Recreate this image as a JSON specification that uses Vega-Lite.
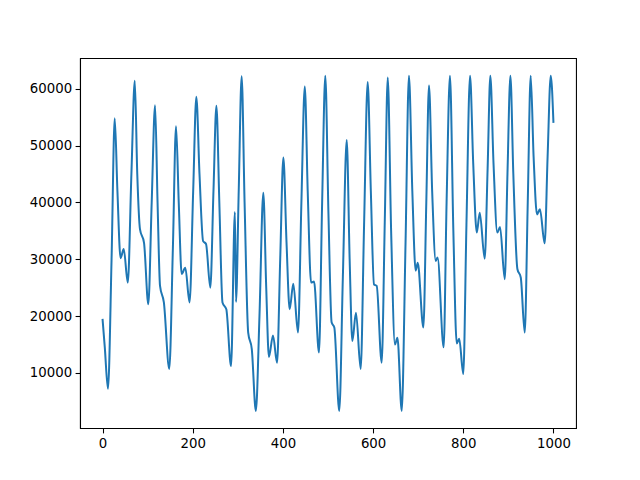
{
  "$schema": "https://vega.github.io/schema/vega-lite/v6.json",
  "width": 496,
  "height": 370,
  "autosize": {"type": "none"},
  "padding": {"left": 80, "top": 58, "right": 64, "bottom": 52},
  "background": "white",
  "config": {
    "view": {"stroke": "black", "strokeWidth": 1.07},
    "axis": {
      "grid": false,
      "domainColor": "black",
      "domainWidth": 1.07,
      "tickColor": "black",
      "tickWidth": 1.07,
      "tickSize": 4.9,
      "labelPadding": 3.5,
      "labelFont": "DejaVu Sans",
      "labelFontSize": 13.3,
      "labelColor": "black",
      "title": null
    }
  },
  "data": {"values": [
    {"x": 0, "y": 19500}, {"x": 5, "y": 14500}, {"x": 12, "y": 7200}, {"x": 20, "y": 30000},
    {"x": 27, "y": 54800}, {"x": 33, "y": 42000}, {"x": 40, "y": 30200}, {"x": 47, "y": 31800},
    {"x": 56, "y": 25900}, {"x": 64, "y": 45000}, {"x": 71.5, "y": 61400}, {"x": 77, "y": 45000},
    {"x": 83, "y": 35300}, {"x": 92, "y": 32900}, {"x": 101.5, "y": 22100}, {"x": 109, "y": 40000},
    {"x": 116.5, "y": 57100}, {"x": 122, "y": 40000}, {"x": 127.5, "y": 25300}, {"x": 136, "y": 22400},
    {"x": 148, "y": 10700}, {"x": 156, "y": 32000}, {"x": 163, "y": 53400}, {"x": 169, "y": 40000},
    {"x": 175.5, "y": 27400}, {"x": 183.5, "y": 28500}, {"x": 193, "y": 22400}, {"x": 201, "y": 42000},
    {"x": 208, "y": 58600}, {"x": 215, "y": 45000}, {"x": 223, "y": 33200}, {"x": 229.5, "y": 32700},
    {"x": 239, "y": 25000}, {"x": 246, "y": 42000}, {"x": 252.5, "y": 57000}, {"x": 259, "y": 40000},
    {"x": 266, "y": 22400}, {"x": 274.5, "y": 21200}, {"x": 285, "y": 11200}, {"x": 293.5, "y": 38300},
    {"x": 296, "y": 22500}, {"x": 302, "y": 42000}, {"x": 308.5, "y": 62200}, {"x": 315, "y": 40000},
    {"x": 323, "y": 17100}, {"x": 331, "y": 14200}, {"x": 340, "y": 3300}, {"x": 348, "y": 20000},
    {"x": 356.5, "y": 41700}, {"x": 363, "y": 25000}, {"x": 369, "y": 12800}, {"x": 378, "y": 16600},
    {"x": 387, "y": 11800}, {"x": 394, "y": 30000}, {"x": 401, "y": 47900}, {"x": 408, "y": 33000},
    {"x": 415, "y": 21200}, {"x": 423, "y": 25700}, {"x": 433.5, "y": 17100}, {"x": 441, "y": 40000},
    {"x": 448.5, "y": 60400}, {"x": 455, "y": 42000}, {"x": 462.5, "y": 25900}, {"x": 469, "y": 26100},
    {"x": 480, "y": 13600}, {"x": 487, "y": 40000}, {"x": 494, "y": 62300}, {"x": 501, "y": 38000},
    {"x": 508, "y": 18900}, {"x": 514, "y": 18000}, {"x": 525, "y": 3300}, {"x": 533, "y": 27000},
    {"x": 541.5, "y": 51000}, {"x": 548, "y": 30000}, {"x": 554, "y": 15600}, {"x": 562, "y": 20600},
    {"x": 572.5, "y": 10700}, {"x": 580, "y": 36000}, {"x": 588, "y": 61200}, {"x": 595, "y": 42000},
    {"x": 602, "y": 25600}, {"x": 608, "y": 25300}, {"x": 619, "y": 11800}, {"x": 626, "y": 37000},
    {"x": 632.5, "y": 62000}, {"x": 640, "y": 35000}, {"x": 648.5, "y": 15000}, {"x": 654, "y": 16200},
    {"x": 663.5, "y": 3300}, {"x": 672, "y": 33000}, {"x": 679.5, "y": 62300}, {"x": 687, "y": 42000},
    {"x": 694.5, "y": 28000}, {"x": 699, "y": 29400}, {"x": 711.5, "y": 18000}, {"x": 718, "y": 40000},
    {"x": 724, "y": 60600}, {"x": 731, "y": 42000}, {"x": 739, "y": 29700}, {"x": 743, "y": 30300},
    {"x": 756.5, "y": 14500}, {"x": 763, "y": 40000}, {"x": 770.5, "y": 62300}, {"x": 778, "y": 35000},
    {"x": 785.5, "y": 15200}, {"x": 791, "y": 16000}, {"x": 800, "y": 9800}, {"x": 807, "y": 36000},
    {"x": 815, "y": 62300}, {"x": 822, "y": 47000}, {"x": 830, "y": 34700}, {"x": 836.5, "y": 38200},
    {"x": 847.5, "y": 30100}, {"x": 854, "y": 46000}, {"x": 860, "y": 62300}, {"x": 867, "y": 47000},
    {"x": 875.5, "y": 34700}, {"x": 881.5, "y": 35700}, {"x": 892, "y": 26500}, {"x": 898, "y": 45000},
    {"x": 904.5, "y": 62300}, {"x": 911, "y": 45000}, {"x": 920, "y": 28300}, {"x": 927.5, "y": 26800},
    {"x": 936.3, "y": 17100}, {"x": 943, "y": 40000}, {"x": 949.5, "y": 62300}, {"x": 956, "y": 48000},
    {"x": 963.5, "y": 37900}, {"x": 970, "y": 38800}, {"x": 980.5, "y": 32800}, {"x": 987, "y": 48000},
    {"x": 994, "y": 62300}, {"x": 1000, "y": 54000}
  ]},
  "mark": {"type": "line", "interpolate": "monotone", "color": "#1f77b4", "strokeWidth": 2, "clip": true},
  "encoding": {
    "x": {"field": "x", "type": "quantitative",
      "scale": {"domain": [-50, 1050], "nice": false, "zero": false},
      "axis": {"values": [0, 200, 400, 600, 800, 1000], "format": "d"}},
    "y": {"field": "y", "type": "quantitative",
      "scale": {"domain": [310, 65420], "nice": false, "zero": false},
      "axis": {"values": [10000, 20000, 30000, 40000, 50000, 60000], "format": "d"}}
  }
}
